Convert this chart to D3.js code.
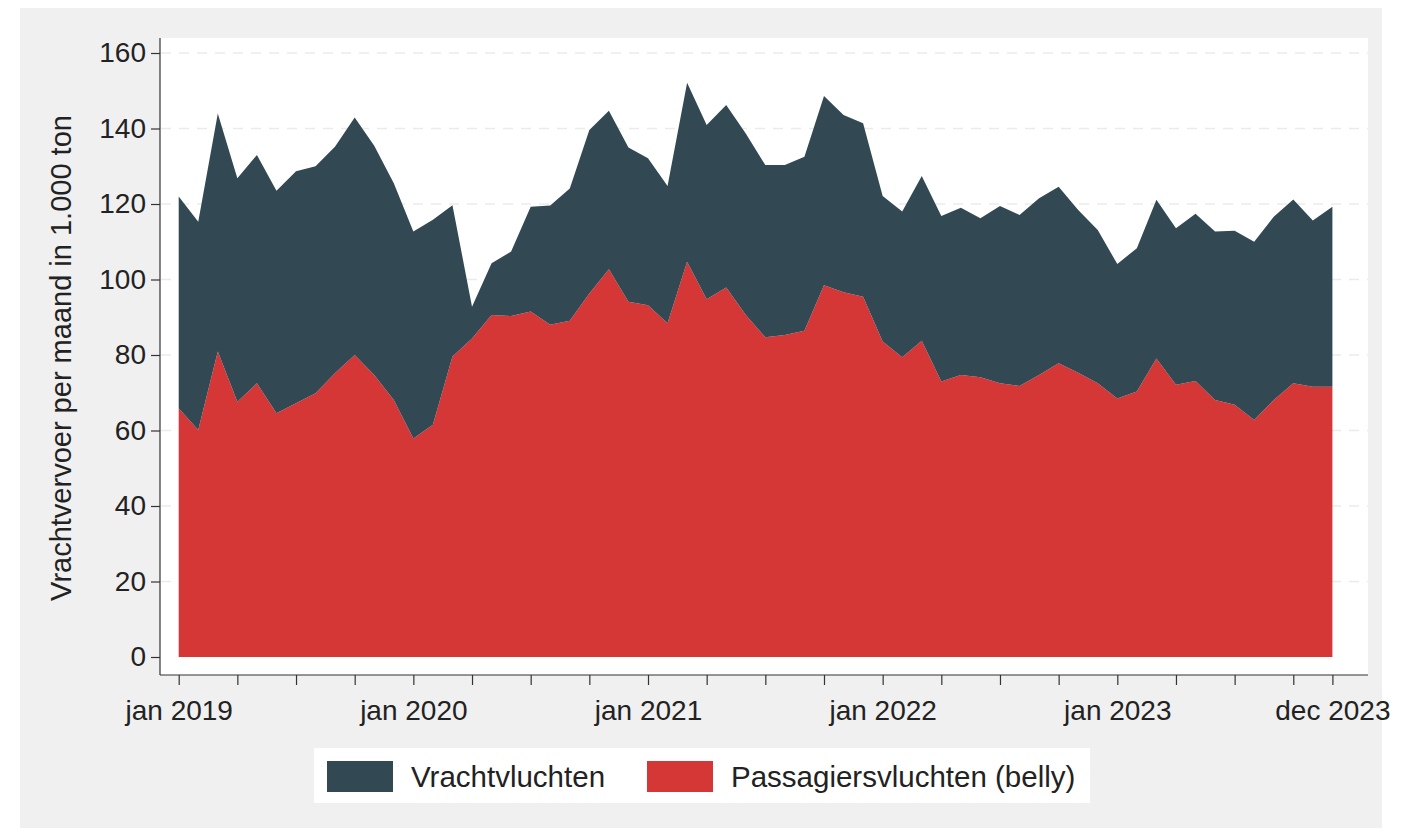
<!DOCTYPE html>
<html>
<head>
<meta charset="utf-8">
<script src="https://cdn.jsdelivr.net/npm/d3@7"></script>
<style>
  body { margin: 0; background: #ffffff; }
  svg { display: block; font-family: 'Liberation Sans', Arial, sans-serif; }
</style>
</head>
<body>
<svg id="mainSvg" width="1402" height="836"></svg>
<script>
// maanden jan 2019 .. dec 2023
let startYear = 2019
let monthNames = ['jan', 'feb', 'mrt', 'apr', 'mei', 'jun', 'jul', 'aug', 'sep', 'okt', 'nov', 'dec']

// Passagiersvluchten (belly), 1.000 ton
let passagiers = [
    65.9, 60.1, 80.9, 67.6, 72.5, 64.6, 67.2, 69.9, 75.2, 80.0, 74.7, 68.1,
    57.9, 61.5, 79.6, 84.4, 90.6, 90.3, 91.5, 88.0, 89.1, 96.3, 102.7, 94.1,
    93.2, 88.4, 104.7, 94.8, 97.9, 90.6, 84.7, 85.3, 86.4, 98.5, 96.6, 95.4,
    83.6, 79.4, 83.8, 73.0, 74.7, 74.1, 72.5, 71.8, 74.7, 77.8, 75.3, 72.5,
    68.5, 70.3, 79.1, 72.1, 73.1, 68.1, 66.8, 62.8, 68.1, 72.5, 71.6, 71.6
]

// Vrachtvluchten, 1.000 ton
let vracht = [
    56.1, 55.2, 63.1, 59.2, 60.5, 58.9, 61.5, 60.1, 60.0, 62.9, 60.7, 57.4,
    54.8, 54.3, 40.1, 8.4, 13.7, 17.1, 27.8, 31.6, 35.0, 43.3, 42.0, 40.9,
    38.9, 36.4, 47.4, 46.1, 48.3, 48.1, 45.6, 45.0, 46.1, 50.1, 47.0, 46.0,
    38.5, 38.6, 43.6, 43.8, 44.3, 42.1, 47.0, 45.3, 46.8, 46.8, 43.1, 40.6,
    35.6, 38.0, 42.0, 41.5, 44.3, 44.6, 46.1, 47.2, 48.5, 48.7, 44.0, 47.7
]

let seriesKeys = ['passagiers', 'vracht']
let seriesLabels = ['Passagiersvluchten (belly)', 'Vrachtvluchten']
let yTicks = [0, 20, 40, 60, 80, 100, 120, 140, 160]

let colors = { passagiers: '#d53636', vracht: '#324953' }

let svg = d3.select('#mainSvg')

// achtergrond
svg.append('rect')
    .attr('x', 20).attr('y', 8)
    .attr('width', 1362).attr('height', 820)
    .attr('fill', '#f0f0f0')

let plot = { left: 160, right: 1368, top: 38, bottom: 675 }

svg.append('rect')
    .attr('x', plot.left).attr('y', plot.top)
    .attr('width', plot.right - plot.left).attr('height', plot.bottom - plot.top)
    .attr('fill', '#ffffff')

let table = passagiers.map(function (p, i) {
    return { i: i, passagiers: p, vracht: vracht[i] }
})

let x = d3.scaleLinear()
    .domain([0, table.length - 1])
    .range([178.7, 1332.4])

let y = d3.scaleLinear()
    .domain([0, 160])
    .range([657, 53])

// gridlijnen
svg.append('g')
    .selectAll('line')
    .data(yTicks.filter(d => d > 0))
    .enter()
    .append('line')
    .attr('x1', plot.left + 1).attr('x2', plot.right)
    .attr('y1', d => y(d)).attr('y2', d => y(d))
    .attr('stroke', '#ebebeb')
    .attr('stroke-width', 1.5)
    .attr('stroke-dasharray', '10,8')

let stacked = d3.stack().keys(seriesKeys)(table)

let area = d3.area()
    .x(d => x(d.data.i))
    .y0(d => y(d[0]))
    .y1(d => y(d[1]))

svg.append('g')
    .selectAll('path')
    .data(stacked)
    .enter()
    .append('path')
    .attr('d', area)
    .attr('fill', d => colors[d.key])

let fontTick = 28

// y-as
let yAxis = svg.append('g')
    .attr('transform', 'translate(' + plot.left + ',0)')
    .call(d3.axisLeft(y).tickValues(yTicks).tickSize(9).tickPadding(5))
yAxis.select('.domain').attr('d', 'M0,' + plot.top + 'V' + plot.bottom)
yAxis.selectAll('path, line').attr('stroke', '#333').attr('stroke-width', 1.2)
yAxis.selectAll('text').attr('font-size', fontTick).attr('fill', '#222')
    .attr('font-family', "'Liberation Sans', Arial, sans-serif")

// x-as
let xTickVals = d3.range(0, 58, 3).concat([59])
let xAxis = svg.append('g')
    .attr('transform', 'translate(0,' + plot.bottom + ')')
    .call(d3.axisBottom(x).tickValues(xTickVals).tickSize(10).tickPadding(15)
        .tickFormat(function (i) {
            if (i === 59 || i % 12 === 0) {
                return monthNames[i % 12] + ' ' + (startYear + Math.floor(i / 12))
            }
            return ''
        }))
xAxis.select('.domain').attr('d', 'M' + plot.left + ',0H' + plot.right)
xAxis.selectAll('path, line').attr('stroke', '#333').attr('stroke-width', 1.2)
xAxis.selectAll('text').attr('font-size', fontTick).attr('fill', '#222')
    .attr('font-family', "'Liberation Sans', Arial, sans-serif")

// as-titel
svg.append('text')
    .attr('transform', 'translate(71,' + 358 + ') rotate(-90)')
    .attr('text-anchor', 'middle')
    .attr('font-size', 29)
    .attr('fill', '#222')
    .text('Vrachtvervoer per maand in 1.000 ton')

// legenda
let legend = svg.append('g')
legend.append('rect')
    .attr('x', 314).attr('y', 748)
    .attr('width', 776).attr('height', 55)
    .attr('fill', '#ffffff')

let legendItems = [
    { key: 'vracht', label: seriesLabels[1], x: 327 },
    { key: 'passagiers', label: seriesLabels[0], x: 647 }
]
legendItems.forEach(function (it) {
    legend.append('rect')
        .attr('x', it.x).attr('y', 761)
        .attr('width', 66).attr('height', 31)
        .attr('fill', colors[it.key])
    legend.append('text')
        .attr('x', it.x + 84).attr('y', 787)
        .attr('font-size', 29.5)
        .attr('fill', '#222')
        .text(it.label)
})
</script>
</body>
</html>
